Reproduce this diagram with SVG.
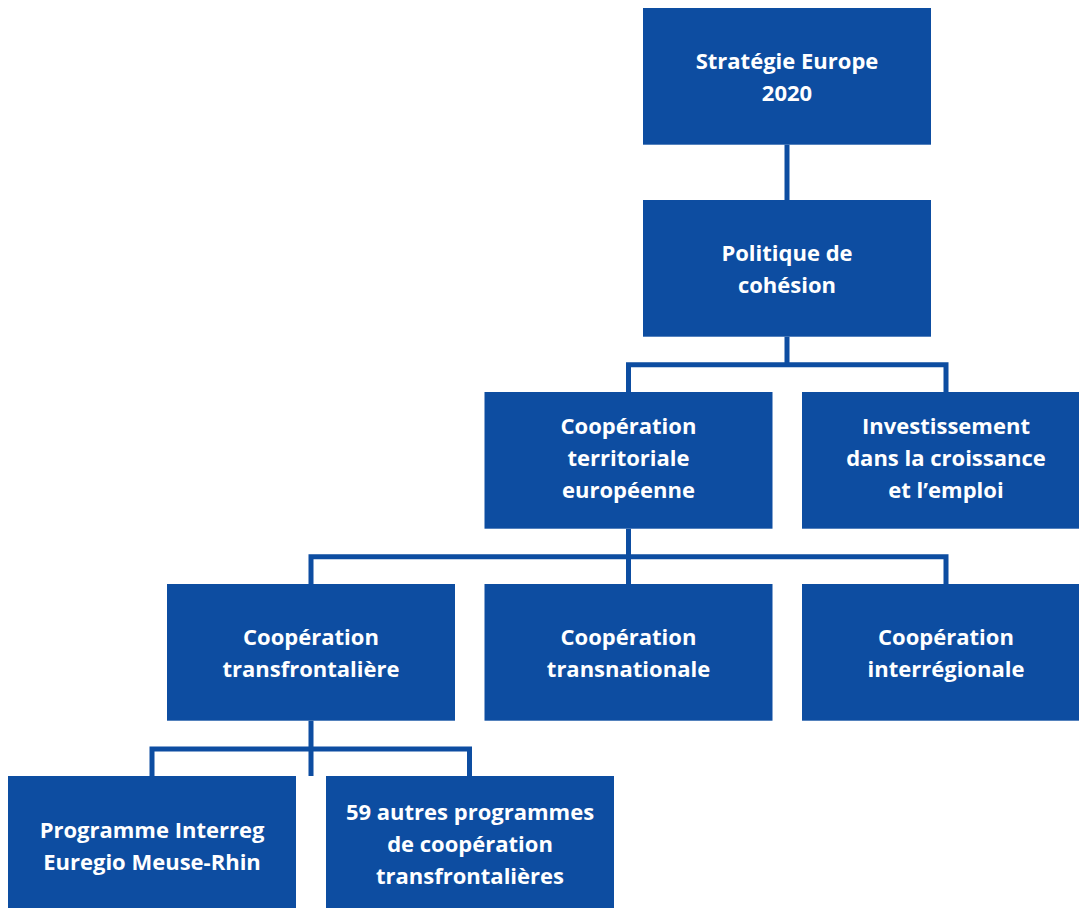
<svg xmlns="http://www.w3.org/2000/svg" width="1079" height="908" viewBox="0 0 1079 908">
<style>
.box{fill:#0D4DA1}
.t{fill:#ffffff;font-family:"Open Sans","Noto Sans",sans-serif;font-weight:700;font-size:22px;text-anchor:middle}
.c{fill:none;stroke:#0D4DA1;stroke-width:5}
</style>
<rect width="1079" height="908" fill="#ffffff"/>
<g id="connectors">
<path class="c" d="M787 144.7V200"/>
<path class="c" d="M787 336.7V364.7M628.5 392V364.7H946V392"/>
<path class="c" d="M628.5 528.7V584M311 584V556.7H946V584"/>
<path class="c" d="M311 720.7V776M152 776V749H469.5V776"/>
</g>
<g id="n1"><rect class="box" x="643" y="8" width="288" height="136.7"/>
<text class="t" x="787" y="69">Stratégie Europe</text><text class="t" x="787" y="101">2020</text></g>
<g id="n2"><rect class="box" x="643" y="200" width="288" height="136.7"/>
<text class="t" x="787" y="261">Politique de</text><text class="t" x="787" y="293">cohésion</text></g>
<g id="n3"><rect class="box" x="484.5" y="392" width="288" height="136.7"/>
<text class="t" x="628.5" y="434">Coopération</text><text class="t" x="628.5" y="466">territoriale</text><text class="t" x="628.5" y="498">européenne</text></g>
<g id="n4"><rect class="box" x="802" y="392" width="288" height="136.7"/>
<text class="t" x="946" y="434">Investissement</text><text class="t" x="946" y="466">dans la croissance</text><text class="t" x="946" y="498">et l’emploi</text></g>
<g id="n5"><rect class="box" x="167" y="584" width="288" height="136.7"/>
<text class="t" x="311" y="645">Coopération</text><text class="t" x="311" y="677">transfrontalière</text></g>
<g id="n6"><rect class="box" x="484.5" y="584" width="288" height="136.7"/>
<text class="t" x="628.5" y="645">Coopération</text><text class="t" x="628.5" y="677">transnationale</text></g>
<g id="n7"><rect class="box" x="802" y="584" width="288" height="136.7"/>
<text class="t" x="946" y="645">Coopération</text><text class="t" x="946" y="677">interrégionale</text></g>
<g id="n8"><rect class="box" x="8" y="776" width="288" height="136.7"/>
<text class="t" x="152" y="838">Programme Interreg</text><text class="t" x="152" y="870">Euregio Meuse-Rhin</text></g>
<g id="n9"><rect class="box" x="326" y="776" width="288" height="136.7"/>
<text class="t" x="470" y="820">59 autres programmes</text><text class="t" x="470" y="852">de coopération</text><text class="t" x="470" y="884">transfrontalières</text></g>
</svg>
